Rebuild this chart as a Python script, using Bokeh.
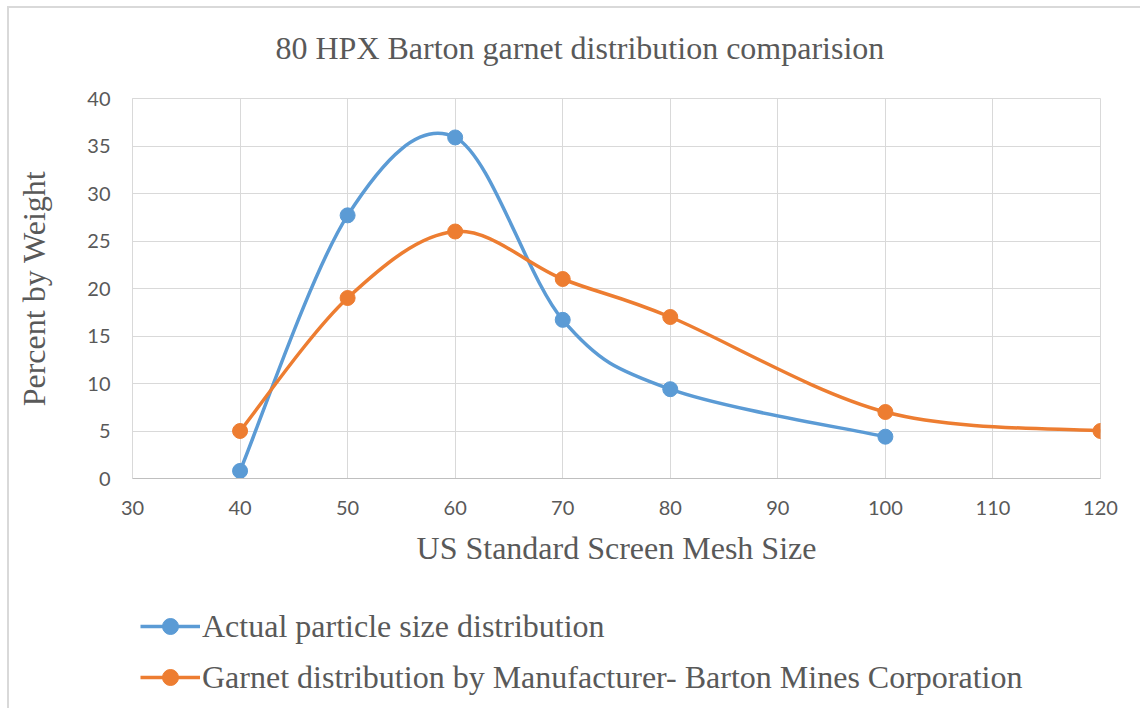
import numpy as np
from bokeh.plotting import figure
from bokeh.layouts import column
from bokeh.models import FixedTicker, Range1d, Legend, LegendItem, ColumnDataSource, Label
from bokeh.embed import file_html
from bokeh.resources import INLINE

# ---- data ----
mesh_actual = [40, 50, 60, 70, 80, 100]
pct_actual = [0.8, 27.7, 35.9, 16.7, 9.4, 4.4]
mesh_mfr = [40, 50, 60, 70, 80, 100, 120]
pct_mfr = [5, 19, 26, 21, 17, 7, 5]
x_ticks = [30, 40, 50, 60, 70, 80, 90, 100, 110, 120]
y_ticks = [0, 5, 10, 15, 20, 25, 30, 35, 40]
name_actual = "Actual particle size distribution"
name_mfr = "Garnet distribution by Manufacturer- Barton Mines Corporation"
title_text = "80 HPX Barton garnet distribution comparision"

BLUE = "#5B9BD5"
ORANGE = "#ED7D31"
TXT = "#595959"
GRID = "#D9D9D9"
SERIF = "Liberation Serif"
W = 1131
BL, BR = 123, 40


def smooth_source(xs, ys):
    """Cubic bezier control points (Catmull-Rom style, like Excel smoothing)."""
    x = np.asarray(xs, float)
    y = np.asarray(ys, float)
    n = len(x)
    d = dict(x0=[], y0=[], x1=[], y1=[], cx0=[], cy0=[], cx1=[], cy1=[])
    for i in range(n - 1):
        xp, yp = (x[i - 1], y[i - 1]) if i > 0 else (x[i], y[i])
        xn, yn = (x[i + 2], y[i + 2]) if i + 2 < n else (x[i + 1], y[i + 1])
        d["x0"].append(x[i]); d["y0"].append(y[i])
        d["x1"].append(x[i + 1]); d["y1"].append(y[i + 1])
        d["cx0"].append(x[i] + (x[i + 1] - xp) / 6)
        d["cy0"].append(y[i] + (y[i + 1] - yp) / 6)
        d["cx1"].append(x[i + 1] - (xn - x[i]) / 6)
        d["cy1"].append(y[i + 1] - (yn - y[i]) / 6)
    return ColumnDataSource(d)


def blank(height):
    f = figure(width=W, height=height, output_backend="svg", toolbar_location=None,
               x_range=Range1d(0, 1), y_range=Range1d(0, 1),
               x_axis_type=None, y_axis_type=None, title=None,
               min_border_left=BL, min_border_right=BR, min_border_top=0,
               min_border_bottom=0)
    f.outline_line_color = None
    return f


# ---- title strip ----
t = blank(76)
t.add_layout(Label(x=143, y=37, x_units="screen", y_units="screen", text=title_text,
                   text_font=SERIF, text_font_size="32px", text_color=TXT,
                   text_align="left", text_baseline="middle"))

# ---- main chart ----
p = figure(width=W, height=506, output_backend="svg", toolbar_location=None,
           x_range=Range1d(30, 120), y_range=Range1d(0, 40), title=None,
           min_border_left=BL, min_border_right=BR, min_border_top=14,
           min_border_bottom=112)

p.outline_line_color = GRID
p.xgrid.grid_line_color = GRID
p.ygrid.grid_line_color = GRID
p.xaxis.ticker = FixedTicker(ticks=x_ticks)
p.yaxis.ticker = FixedTicker(ticks=y_ticks)

for ax in (p.xaxis[0], p.yaxis[0]):
    ax.major_tick_line_color = None
    ax.minor_tick_line_color = None
    ax.major_tick_out = 0
    ax.major_tick_in = 0
    ax.major_label_text_font = "Lato"
    ax.major_label_text_font_size = "20px"
    ax.major_label_text_color = TXT
    ax.axis_label_text_font = SERIF
    ax.axis_label_text_font_size = "32px"
    ax.axis_label_text_font_style = "normal"
    ax.axis_label_text_color = TXT

p.xaxis.axis_line_color = "#BFBFBF"
p.yaxis.axis_line_color = GRID
p.xaxis.axis_label = "US Standard Screen Mesh Size"
p.yaxis.axis_label = "Percent by Weight"
p.xaxis.major_label_standoff = 22
p.yaxis.major_label_standoff = 22
p.xaxis.axis_label_standoff = 12
p.yaxis.axis_label_standoff = 32

src_a = smooth_source(mesh_actual, pct_actual)
src_m = smooth_source(mesh_mfr, pct_mfr)

p.bezier("x0", "y0", "x1", "y1", "cx0", "cy0", "cx1", "cy1", source=src_a,
         line_color=BLUE, line_width=3.5)
p.scatter(mesh_actual, pct_actual, size=15, color=BLUE)
p.bezier("x0", "y0", "x1", "y1", "cx0", "cy0", "cx1", "cy1", source=src_m,
         line_color=ORANGE, line_width=3.5)
p.scatter(mesh_mfr, pct_mfr, size=15, color=ORANGE)

# ---- legend strip ----
q = blank(118)
la = q.line(mesh_actual, pct_actual, line_color=BLUE, line_width=3.5)
ma = q.scatter(mesh_actual, pct_actual, size=15, color=BLUE)
lm = q.line(mesh_mfr, pct_mfr, line_color=ORANGE, line_width=3.5)
mm = q.scatter(mesh_mfr, pct_mfr, size=15, color=ORANGE)

legend = Legend(items=[LegendItem(label=name_actual, renderers=[la, ma]),
                       LegendItem(label=name_mfr, renderers=[lm, mm])],
                location=(8, 11), padding=0, margin=0, spacing=11,
                glyph_width=60, glyph_height=40, label_height=40, label_standoff=2,
                label_text_font=SERIF, label_text_font_size="32px",
                label_text_color=TXT, border_line_color=None,
                background_fill_alpha=0)
q.add_layout(legend, "center")

layout = column(t, p, q, spacing=0,
                styles={"margin-left": "7px", "margin-top": "6px",
                        "border-left": "2px solid #D9D9D9",
                        "border-top": "2px solid #D9D9D9"})
open("out.html", "w").write(file_html(layout, INLINE))
